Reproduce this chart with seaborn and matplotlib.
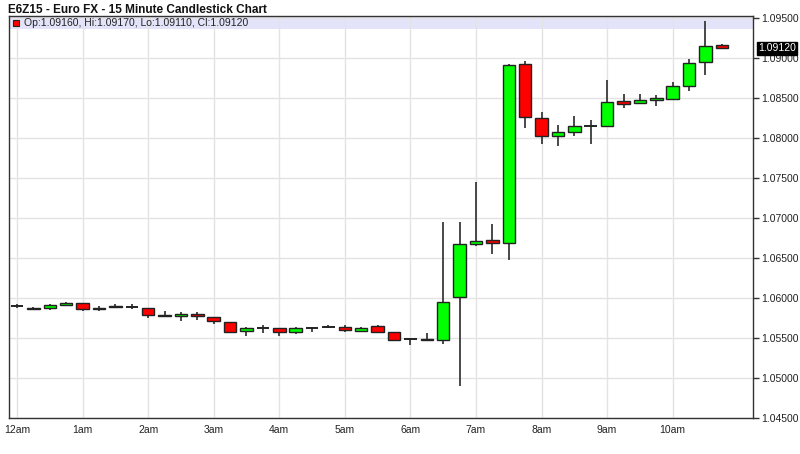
import numpy as np
import pandas as pd
import matplotlib
matplotlib.use("Agg")
import matplotlib.pyplot as plt
import matplotlib.transforms as mtransforms
from matplotlib.patches import Rectangle
import seaborn as sns

# 15 minute bars, 12:00am .. 10:45am
opens = [1.0590, 1.0588, 1.0587, 1.0591, 1.0594, 1.0586, 1.0589, 1.0589, 1.0588, 1.0579,
         1.0577, 1.0580, 1.0576, 1.0570, 1.0559, 1.0562, 1.0563, 1.0558, 1.0563, 1.0564,
         1.0564, 1.0559, 1.0565, 1.0557, 1.0549, 1.0549, 1.0548, 1.0601, 1.0668, 1.0673,
         1.0669, 1.0892, 1.0825, 1.0803, 1.0808, 1.0815, 1.0815, 1.0846, 1.0844, 1.0848,
         1.0849, 1.0865, 1.0895, 1.0916]
highs = [1.0592, 1.0589, 1.0593, 1.0595, 1.0594, 1.0590, 1.0592, 1.0592, 1.0588, 1.0584,
         1.0582, 1.0583, 1.0576, 1.0570, 1.0564, 1.0566, 1.0563, 1.0564, 1.0564, 1.0566,
         1.0566, 1.0564, 1.0566, 1.0557, 1.0550, 1.0556, 1.0695, 1.0695, 1.0745, 1.0693,
         1.0893, 1.0896, 1.0833, 1.0816, 1.0828, 1.0823, 1.0873, 1.0855, 1.0855, 1.0854,
         1.0870, 1.0899, 1.0946, 1.0917]
lows = [1.0588, 1.0585, 1.0585, 1.0590, 1.0584, 1.0584, 1.0587, 1.0586, 1.0575, 1.0576,
        1.0571, 1.0573, 1.0567, 1.0558, 1.0553, 1.0556, 1.0553, 1.0555, 1.0557, 1.0562,
        1.0557, 1.0558, 1.0557, 1.0548, 1.0541, 1.0546, 1.0543, 1.0490, 1.0665, 1.0655,
        1.0647, 1.0813, 1.0793, 1.0790, 1.0802, 1.0792, 1.0815, 1.0838, 1.0844, 1.0840,
        1.0849, 1.0859, 1.0879, 1.0911]
closes = [1.0590, 1.0586, 1.0591, 1.0594, 1.0586, 1.0588, 1.0590, 1.0589, 1.0579, 1.0577,
          1.0580, 1.0577, 1.0571, 1.0558, 1.0563, 1.0562, 1.0558, 1.0563, 1.0563, 1.0564,
          1.0560, 1.0563, 1.0557, 1.0548, 1.0549, 1.0548, 1.0595, 1.0668, 1.0671, 1.0669,
          1.0891, 1.0826, 1.0802, 1.0807, 1.0815, 1.0815, 1.0845, 1.0843, 1.0848, 1.0850,
          1.0865, 1.0894, 1.0915, 1.0912]

hour_labels = ["12am", "1am", "2am", "3am", "4am", "5am", "6am", "7am", "8am", "9am", "10am"]
price_ticks = [1.045, 1.050, 1.055, 1.060, 1.065, 1.070, 1.075, 1.080, 1.085, 1.090, 1.095]

df = pd.DataFrame({"open": opens, "high": highs, "low": lows, "close": closes})
df["time"] = pd.date_range("2015-11-02 00:00", periods=len(df), freq="15min")
df["hour"] = df["time"].dt.hour + df["time"].dt.minute / 60.0

sns.set_style("white")
plt.rcParams["font.family"] = ["Liberation Sans", "DejaVu Sans"]

fig = plt.figure(figsize=(8, 4.54), dpi=100)
W, H = 800, 454
ax = fig.add_axes([9 / W, 1 - 418 / H, 744 / W, 402 / H])

ax.set_xlim(-0.122, 11.225)
ax.set_ylim(1.045, 1.09525)

# grid
ax.set_xticks(range(len(hour_labels)))
ax.set_xticklabels(hour_labels)
ax.set_yticks(price_ticks)
ax.set_yticklabels([f"{p:.5f}" for p in price_ticks])
ax.grid(True, color="#e3e3e3", linewidth=1)
ax.set_axisbelow(True)

# legend strip
strip = Rectangle((0, (418 - 29) / 402), 1, 1 - (418 - 29) / 402, transform=ax.transAxes,
                  facecolor="#e3e3fa", edgecolor="none", zorder=0.5)
ax.add_patch(strip)

width = 0.19
bull = df["close"] > df["open"]
bear = df["close"] < df["open"]
doji = df["close"] == df["open"]

# wicks
ax.vlines(df["hour"], df["low"], df["high"], color="#3a3a3a", linewidth=1.3, zorder=2)

# bodies
for mask, col in [(bull, "#00ff00"), (bear, "#ff0000")]:
    d = df[mask]
    bottom = d[["open", "close"]].min(axis=1)
    height = (d["close"] - d["open"]).abs()
    ax.bar(d["hour"], height, bottom=bottom, width=width, color=col,
           edgecolor="#222222", linewidth=1.0, zorder=3)

# doji crosses
d = df[doji]
ax.hlines(d["close"], d["hour"] - width / 2, d["hour"] + width / 2,
          color="#222222", linewidth=1.4, zorder=3)

ax.yaxis.tick_right()
ax.tick_params(axis="y", direction="out", length=4, width=1, colors="#333333",
               labelsize=7.5, labelcolor="#222222", pad=2)
ax.tick_params(axis="x", direction="out", length=3, width=1, colors="#333333",
               labelsize=7.5, labelcolor="#222222", pad=2)
for s in ax.spines.values():
    s.set_color("#333333")
    s.set_linewidth(1)

# legend text for the last bar
last = df.iloc[-1]
ax.plot([0.0095], [(418 - 23) / 402], marker="s", markersize=5, color="#ff0000",
        markeredgecolor="#222222", markeredgewidth=0.8, transform=ax.transAxes,
        clip_on=False, zorder=5)
ax.text(0.02, (418 - 23) / 402,
        f"Op:{last['open']:.5f}, Hi:{last['high']:.5f}, Lo:{last['low']:.5f}, Cl:{last['close']:.5f}",
        transform=ax.transAxes, fontsize=7.5, va="center", ha="left", color="#222222", zorder=5)

# last price tag
trans = mtransforms.blended_transform_factory(ax.transAxes, ax.transData)
ax.text(1.007, last["close"], f"{last['close']:.5f}", transform=trans, fontsize=7.5,
        color="white", va="center", ha="left",
        bbox=dict(boxstyle="square,pad=0.12", facecolor="black", edgecolor="black"))

fig.text(8 / W, 1 - 10 / H, "E6Z15 - Euro FX - 15 Minute Candlestick Chart",
         fontsize=8.5, fontweight="bold", va="center", ha="left", color="#111111")

fig.savefig("out.png", dpi=100)
